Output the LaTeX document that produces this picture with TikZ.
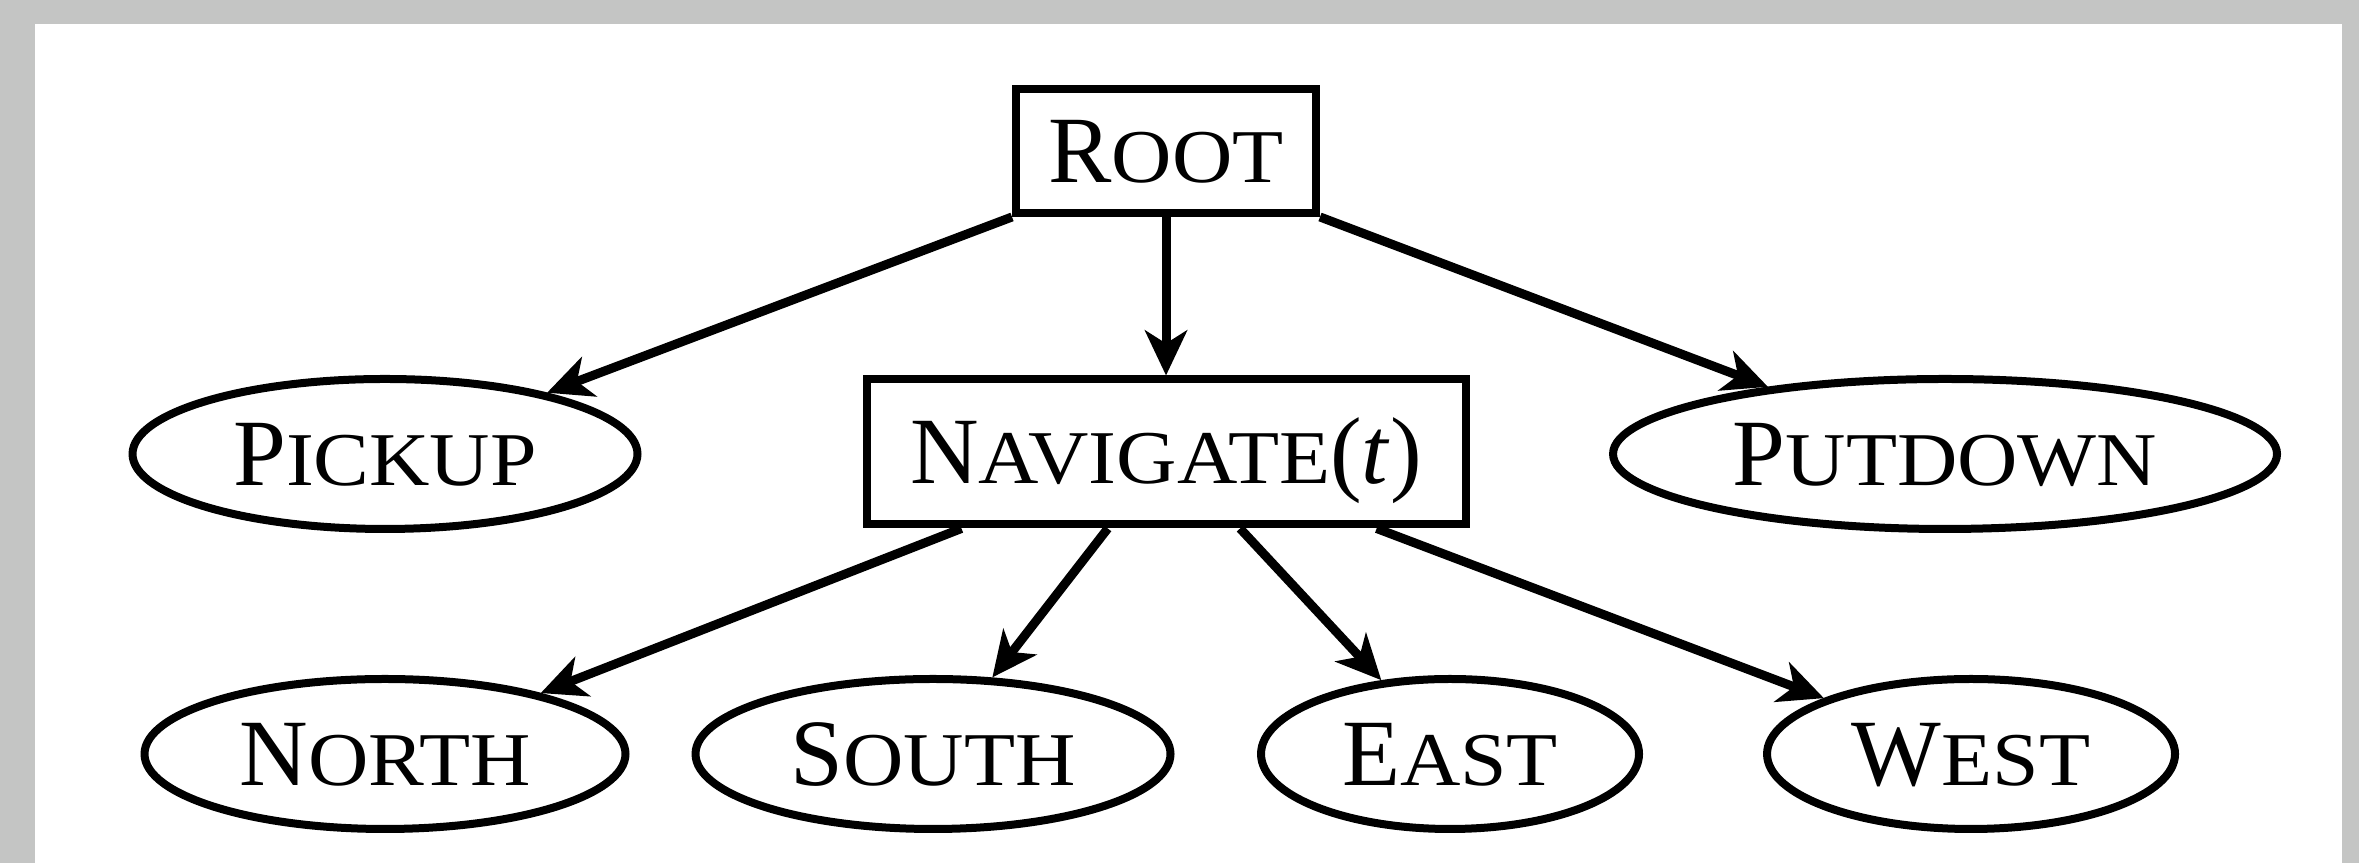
\documentclass[tikz,border=0pt]{standalone}
\usepackage{fontspec}
\setmainfont{Liberation Serif}
\newfontfamily\scsmall[FakeStretch=1.1]{Liberation Serif}
\usetikzlibrary{arrows.meta,calc,shapes.geometric}
\definecolor{bggray}{RGB}{196,197,196}
\newcommand{\fsc}[2]{#1{\scsmall\fontsize{7.6pt}{9pt}\selectfont #2}}
\tikzset{
  lbl/.style={font=\fontsize{9.5pt}{11pt}\selectfont, text height=6.3pt, text depth=0pt, inner sep=0pt},
  boxn/.style={lbl, draw, rectangle, line width=0.8pt},
  ell/.style={lbl, draw, ellipse, line width=0.8pt, minimum height=15pt},
  arr/.style={line width=0.9pt, -{Stealth[length=4.5pt,width=4.2pt,inset=1.3pt]}}
}
\begin{document}
\begin{tikzpicture}[x=0.1pt,y=-0.1pt]
\fill[bggray] (0,0) rectangle (2359,863);
\fill[white] (35,24) rectangle (2342,863);
\useasboundingbox (0,0) rectangle (2359,863);

\node[boxn, minimum width=30pt, minimum height=12.4pt] (root) at (1166,151) {\fsc{R}{OOT}};
\node[boxn, minimum width=59.9pt, minimum height=14.5pt] (nav) at (1166,452) {\fsc{N}{AVIGATE}(\textit{t})};
\node[ell, minimum width=50.5pt] (pickup) at (385,454) {\fsc{P}{ICKUP}};
\node[ell, minimum width=66.4pt] (putdown) at (1945,454) {\fsc{P}{UTDOWN}};
\node[ell, minimum width=48.1pt] (north) at (385,754) {\fsc{N}{ORTH}};
\node[ell, minimum width=47.5pt] (south) at (933,754) {\fsc{S}{OUTH}};
\node[ell, minimum width=37.8pt] (east) at (1450,754) {\fsc{E}{AST}};
\node[ell, minimum width=40.8pt] (west) at (1971,754) {\fsc{W}{EST}};

\coordinate (n1) at ($(nav.south west)!0.163!(nav.south east)$);
\coordinate (n2) at ($(nav.south west)!0.404!(nav.south east)$);
\coordinate (n3) at ($(nav.south west)!0.622!(nav.south east)$);
\coordinate (n4) at ($(nav.south west)!0.847!(nav.south east)$);

\draw[arr] (root.south west) -- (pickup);
\draw[arr] (root.south) -- (nav.north);
\draw[arr] (root.south east) -- (putdown);
\draw[arr] (n1) -- (north);
\draw[arr] (n2) -- (south);
\draw[arr] (n3) -- (east);
\draw[arr] (n4) -- (west);
\end{tikzpicture}
\end{document}
